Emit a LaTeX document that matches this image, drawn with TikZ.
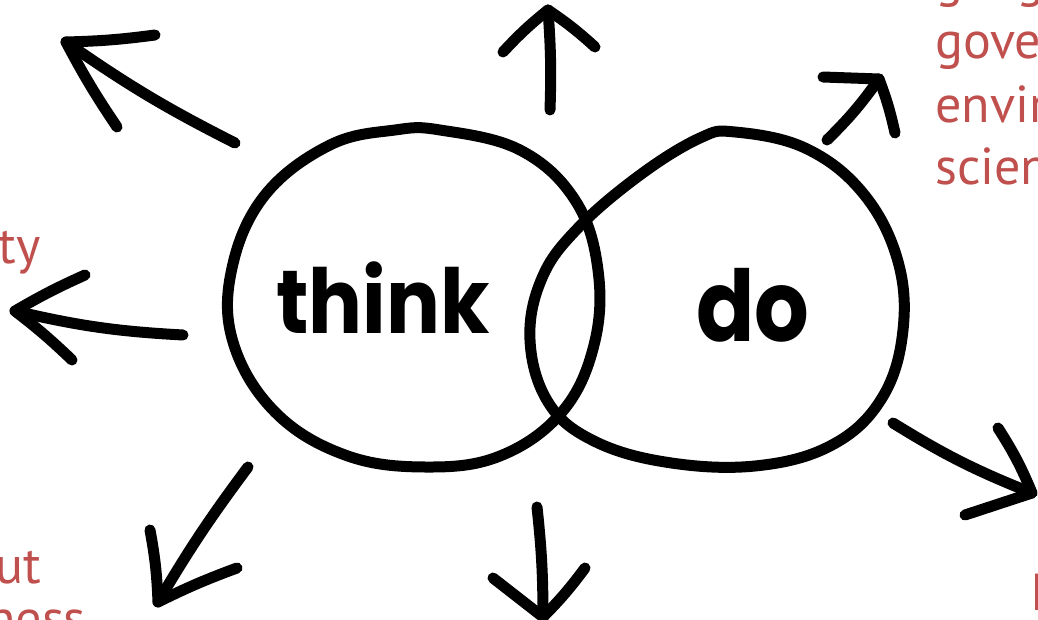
\documentclass[tikz,border=0pt]{standalone}
\usepackage{fontspec}
\newfontfamily\handfont{Poppins}
\newfontfamily\listfont{PT Sans}
\definecolor{topicred}{HTML}{C0504D}

\begin{document}
\begin{tikzpicture}[
  x=1pt,y=-1pt,
  marker/.style={line width=11pt,line cap=round,line join=round},
  word/.style={inner sep=0pt,anchor=base west,font=\handfont\bfseries\fontsize{80}{80}\selectfont},
  topic/.style={inner sep=0pt,text=topicred,font=\listfont\fontsize{52}{62}\selectfont}
]
  \useasboundingbox (0,0) rectangle (1038,620);
  \clip (0,0) rectangle (1038,620);

  % the two loops
  \draw[marker] plot[smooth cycle,tension=0.65] coordinates {
    (440,130) (520,150) (575,200) (598,270) (594,345) (562,412) (500,456)
    (425,467) (345,455) (275,412) (233,342) (232,268) (265,195) (330,145) (395,130)};
  \draw[marker] plot[smooth cycle,tension=0.65] coordinates {
    (735,132) (805,148) (862,192) (897,258) (903,330) (882,398) (832,445)
    (755,466) (665,462) (592,440) (548,402) (530,340) (542,278) (578,228)
    (640,175) (700,138)};

  \node[word] (think) at (276,333) {\scalebox{1}[1.12]{think}};
  \node[word,font=\handfont\bfseries\fontsize{86}{86}\selectfont] (do) at (696,341) {\scalebox{1}[1.15]{do}};

  % arrows
  \coordinate (tail1) at (235,143);
  \coordinate (tip1) at (66,42);
  \draw[marker] (tail1) to[bend left=4] (tip1);
  \draw[marker] (155,35) to[bend left=3] (tip1) to[bend right=3] (117,127);

  \coordinate (tail2) at (550,110);
  \coordinate (tip2) at (548,10);
  \draw[marker] (tail2) to[bend right=3] (tip2);
  \draw[marker] (503,52) to[bend left=4] (tip2) to[bend left=4] (595,47);

  \coordinate (tail3) at (827,140);
  \coordinate (tip3) at (879,79);
  \draw[marker] (tail3) to[bend right=5] (tip3);
  \draw[marker] (823,77) -- (tip3) to[bend left=4] (895,133);

  \coordinate (tail4) at (183,335);
  \coordinate (tip4) at (15,311);
  \draw[marker] (tail4) to[bend left=5] (tip4);
  \draw[marker] (85,275) to[bend right=3] (tip4) to[bend left=3] (72,360);

  \coordinate (tail5) at (248,467);
  \coordinate (tip5) at (158,602);
  \draw[marker] (tail5) to[bend right=3] (tip5);
  \draw[marker] (150,530) to[bend left=4] (tip5) to[bend left=3] (237,568);

  \coordinate (tail6) at (537,507);
  \coordinate (tip6) at (543,617);
  \draw[marker] (tail6) to[bend left=3] (tip6);
  \draw[marker] (493,578) -- (tip6) to[bend right=4] (585,568);

  \coordinate (tail7) at (893,423);
  \coordinate (tip7) at (1032,493);
  \draw[marker] (tail7) to[bend right=5] (tip7);
  \draw[marker] (998,428) to[bend left=5] (tip7) -- (965,515);

  % cut-off topics
  \node[topic,anchor=base west] (geo) at (935,-3) {geog};
  \node[topic,anchor=base west] (gov) at (935,59) {gove};
  \node[topic,anchor=base west] (env) at (935,123) {envir};
  \node[topic,anchor=base west] (sci) at (935,185) {scien};
  \node[topic,anchor=base east] (soc) at (41,263) {ty};
  \node[topic,anchor=base east] (abt) at (41,583) {ut};
  \node[topic,anchor=base east] (bus) at (86,636) {ness};
  \node[topic,anchor=base west] (hx) at (1031,610) {h};
\end{tikzpicture}
\end{document}
